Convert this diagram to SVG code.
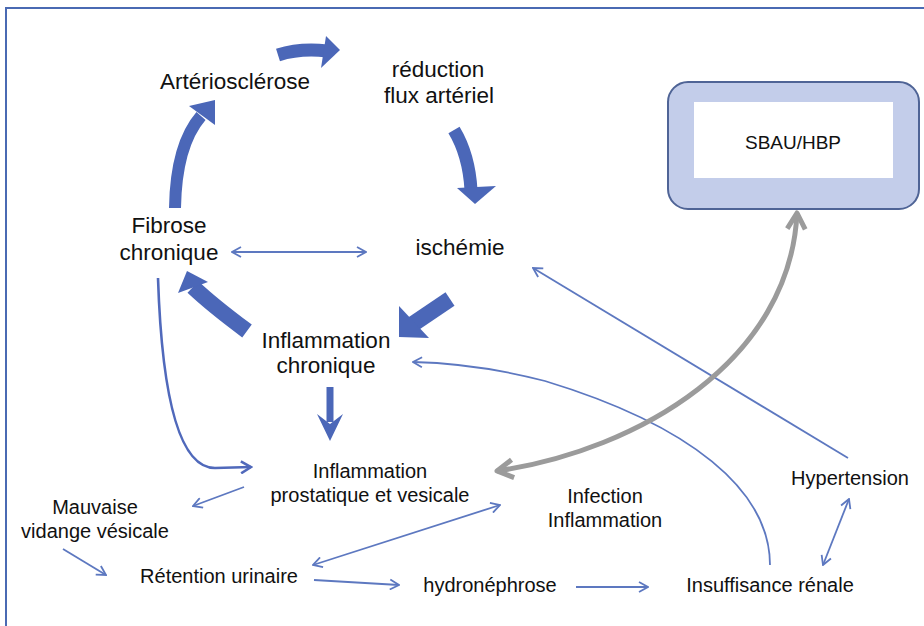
<svg xmlns="http://www.w3.org/2000/svg" width="924" height="626" viewBox="0 0 924 626">
<defs>
<style>
text{font-family:"Liberation Sans",Arial,sans-serif;fill:#111;text-anchor:middle}
.big{font-size:22.5px}
.med{font-size:20px}
.thick{fill:none;stroke:#4b67b8;stroke-linecap:butt}
.head{fill:#4b67b8}
.thin{fill:none;stroke:#5d78c0;stroke-width:1.8}
.grey{fill:none;stroke:#9b9b9b;stroke-width:5}
</style>
<marker id="ah" viewBox="0 0 12 12" refX="11" refY="6" markerWidth="12" markerHeight="12" markerUnits="userSpaceOnUse" orient="auto-start-reverse">
<path d="M2,1 L11,6 L2,11" fill="none" stroke="#5d78c0" stroke-width="1.8"/>
</marker>
<marker id="ahb" viewBox="0 0 14 14" refX="12" refY="7" markerWidth="14" markerHeight="14" markerUnits="userSpaceOnUse" orient="auto">
<path d="M2,1 L12,7 L2,13" fill="none" stroke="#5069bb" stroke-width="2.6"/>
</marker>
<marker id="ahg" viewBox="0 0 24 24" refX="21" refY="12" markerWidth="24" markerHeight="24" markerUnits="userSpaceOnUse" orient="auto-start-reverse">
<path d="M5,3 L21,12 L5,21" fill="none" stroke="#9b9b9b" stroke-width="5" stroke-linejoin="round"/>
</marker>
</defs>
<rect width="924" height="626" fill="#fff"/>
<rect x="6" y="8" width="940" height="660" fill="none" stroke="#4a6ab3" stroke-width="2"/>

<g id="connectors">
<g id="c-art-red"><path class="thick" stroke-width="13" d="M278,55 Q300,48 327,51"/><polygon class="head" points="326,36 340,50 321,68"/></g>
<g id="c-red-isc"><path class="thick" stroke-width="13" d="M454,130 Q469,155 471,190"/><polygon class="head" points="457,188 496,186 475,204"/></g>
<g id="c-fib-art"><path class="thick" stroke-width="12" d="M175,208 Q176,145 201,116"/><polygon class="head" points="189,106 215,100 215,125"/></g>
<g id="c-isc-inf"><path class="thick" stroke-width="16" d="M450,299 L413,324"/><polygon class="head" points="399,306 429,338 399,337"/></g>
<g id="c-inf-fib"><path class="thick" stroke-width="16" d="M247,331 Q212,305 193,287"/><polygon class="head" points="187,271 208,282 178,293"/></g>
<g id="c-inf-pro"><path class="thick" stroke-width="7" d="M330,387 L330,422"/><polygon class="head" points="317,414 330,424 343,414 330,441"/></g>
<path class="thin" d="M232,252 L366,252" marker-start="url(#ah)" marker-end="url(#ah)"/>
<path fill="none" stroke="#5069bb" stroke-width="2.6" d="M158,278 C162,400 180,468 215,468 L251,467" marker-end="url(#ahb)"/>
<path class="thin" d="M244,487 L193,506" marker-end="url(#ah)"/>
<path class="thin" d="M63,549 L106,575" marker-end="url(#ah)"/>
<path class="thin" d="M313,565 L500,505" marker-start="url(#ah)" marker-end="url(#ah)"/>
<path class="thin" d="M314,580 L399,585" marker-end="url(#ah)"/>
<path class="thin" d="M576,587 L648,587" marker-end="url(#ah)"/>
<path class="thin" d="M770,565 C770,490 690,425 545,381 C495,368 455,363 413,362" marker-end="url(#ah)"/>
<path class="thin" d="M848,458 L533,268" marker-end="url(#ah)"/>
<path class="thin" d="M849,499 L823,565" marker-start="url(#ah)" marker-end="url(#ah)"/>
<path class="grey" d="M497,471 C640,450 790,360 797,213" marker-start="url(#ahg)" marker-end="url(#ahg)"/>
</g>

<g id="n-arterio"><text class="big" x="235" y="89">Artériosclérose</text></g>
<g id="n-reduction"><text class="big" x="438" y="77">réduction</text><text class="big" x="439" y="103">flux artériel</text></g>
<g id="n-sbau"><rect x="668" y="82" width="251" height="127" rx="20" fill="#c3cdea" stroke="#4f6496" stroke-width="2"/><rect x="694" y="102" width="199" height="76" fill="#fff"/><text x="793" y="149" style="font-size:19px">SBAU/HBP</text></g>
<g id="n-fibrose"><text class="big" x="169" y="233">Fibrose</text><text class="big" x="169" y="260">chronique</text></g>
<g id="n-ischemie"><text class="big" x="460" y="255">ischémie</text></g>
<g id="n-inflchron"><text class="big" x="326" y="348">Inflammation</text><text class="big" x="326" y="373">chronique</text></g>
<g id="n-inflpro"><text class="med" x="370" y="478">Inflammation</text><text class="med" x="370" y="502">prostatique et vesicale</text></g>
<g id="n-mauvaise"><text class="med" x="95" y="514">Mauvaise</text><text class="med" x="95" y="538">vidange vésicale</text></g>
<g id="n-retention"><text class="med" x="219" y="583">Rétention urinaire</text></g>
<g id="n-hydro"><text class="med" x="490" y="592">hydronéphrose</text></g>
<g id="n-insuff"><text class="med" x="770" y="592">Insuffisance rénale</text></g>
<g id="n-hyper"><text class="med" x="850" y="485">Hypertension</text></g>
<g id="n-infection"><text class="med" x="605" y="503">Infection</text><text class="med" x="605" y="527">Inflammation</text></g>
</svg>
